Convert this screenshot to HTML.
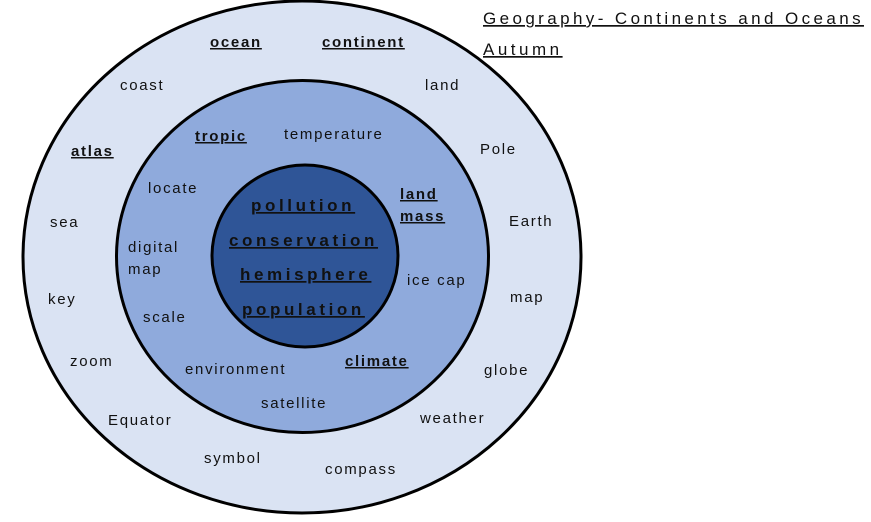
<!DOCTYPE html>
<html><head><meta charset="utf-8"><style>
body{margin:0;background:#fff;width:871px;height:517px;overflow:hidden}
svg text{font-family:"Liberation Sans",sans-serif;font-size:15px;fill:#111;letter-spacing:1.7px}
.u{text-decoration:underline;font-weight:bold}
.b{font-weight:bold;font-size:17px;text-decoration:underline;letter-spacing:3.6px}
</style></head><body>
<svg width="871" height="517" xmlns="http://www.w3.org/2000/svg">
<ellipse cx="302" cy="257" rx="279" ry="256" fill="#dae3f3" stroke="#000" stroke-width="3"/>
<ellipse cx="302.5" cy="256.5" rx="186" ry="176" fill="#8faadc" stroke="#000" stroke-width="3"/>
<ellipse cx="305" cy="256" rx="93" ry="91" fill="#2f5597" stroke="#000" stroke-width="3"/>
<text x="483" y="24" style="font-size:17px;text-decoration:underline;letter-spacing:3.4px">Geography- Continents and Oceans</text>
<text x="483" y="55" style="font-size:17px;text-decoration:underline;letter-spacing:3.5px">Autumn</text>
<text x="210" y="47" class="u">ocean</text>
<text x="322" y="47" class="u">continent</text>
<text x="120" y="90">coast</text>
<text x="425" y="90">land</text>
<text x="71" y="156" class="u">atlas</text>
<text x="480" y="154">Pole</text>
<text x="50" y="227">sea</text>
<text x="509" y="226">Earth</text>
<text x="48" y="304">key</text>
<text x="510" y="302">map</text>
<text x="70" y="366">zoom</text>
<text x="484" y="375">globe</text>
<text x="108" y="425">Equator</text>
<text x="420" y="423">weather</text>
<text x="204" y="463">symbol</text>
<text x="325" y="474">compass</text>
<text x="195" y="141" class="u">tropic</text>
<text x="284" y="139">temperature</text>
<text x="148" y="193">locate</text>
<text x="400" y="199" class="u">land</text>
<text x="400" y="221" class="u">mass</text>
<text x="128" y="252">digital</text>
<text x="128" y="274">map</text>
<text x="407" y="285">ice cap</text>
<text x="143" y="322">scale</text>
<text x="345" y="366" class="u">climate</text>
<text x="185" y="374">environment</text>
<text x="261" y="408">satellite</text>
<text x="251" y="211" class="b">pollution</text>
<text x="229" y="246" class="b">conservation</text>
<text x="240" y="280" class="b">hemisphere</text>
<text x="242" y="315" class="b">population</text>
</svg>
</body></html>
